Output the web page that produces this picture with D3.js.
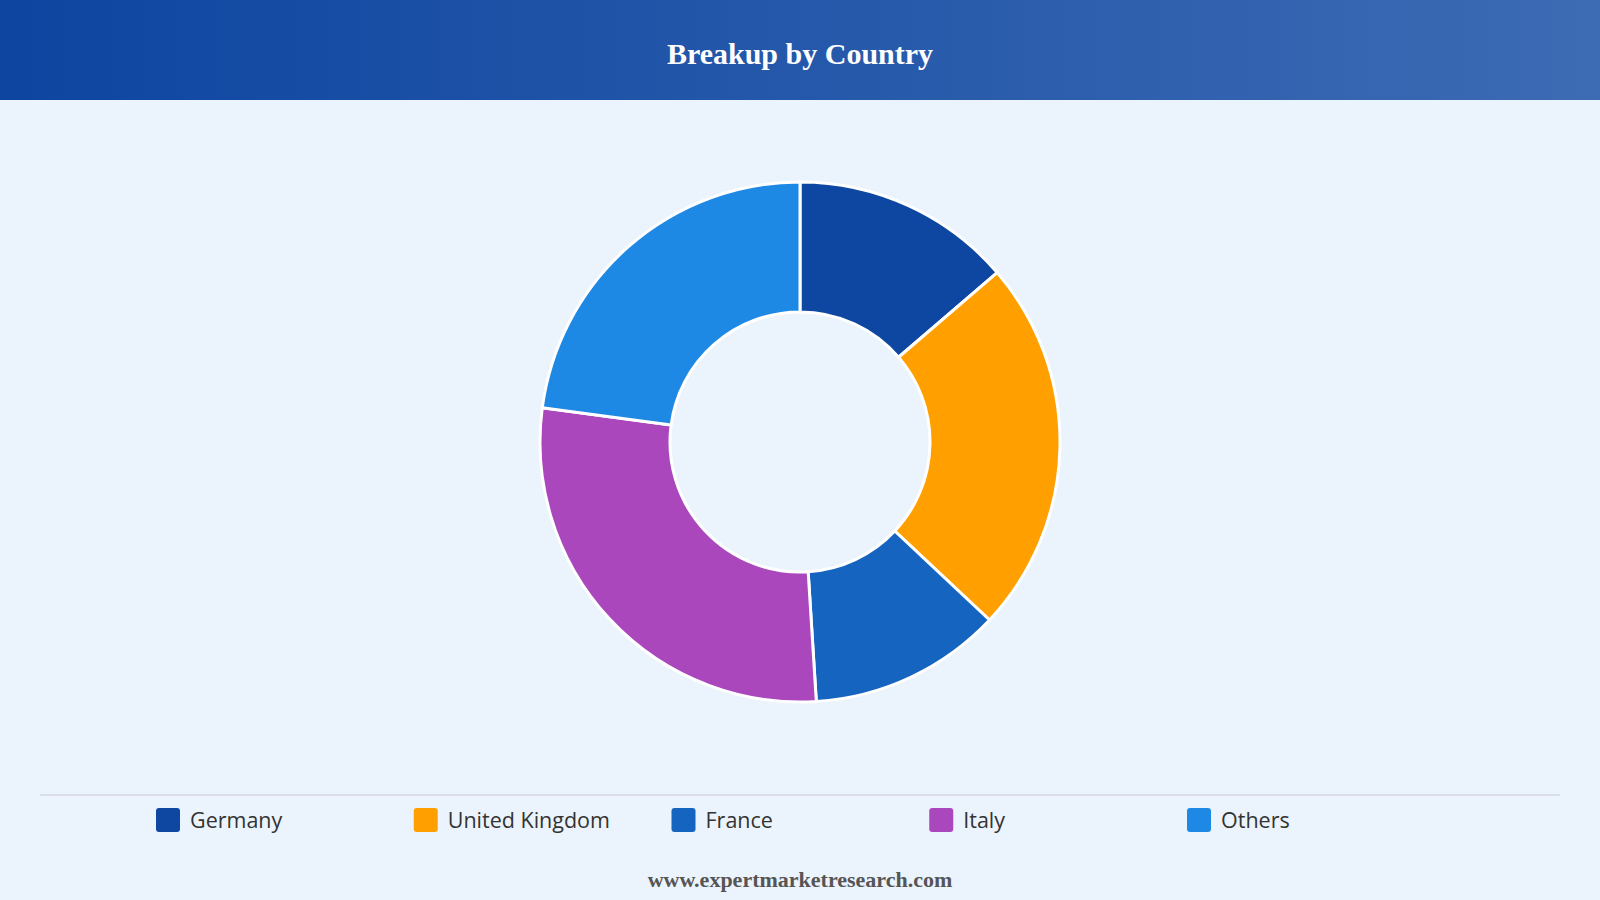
<!DOCTYPE html>
<html>
<head>
<meta charset="utf-8">
<script src="https://cdn.jsdelivr.net/npm/d3@7"></script>
<style>
  html, body { margin: 0; padding: 0; background: #ebf3fc; }
  svg { display: block; }
</style>
</head>
<body>
<svg id="chart" width="1600" height="900"></svg>
<script>
const categories = ["Germany", "United Kingdom", "France", "Italy", "Others"];
const values = [13.7, 23.3, 12.0, 28.1, 22.9];
const colors = ["#0d47a1", "#ffa000", "#1565c0", "#ab47bc", "#1e88e5"];
const title = "Breakup by Country";
const footer = "www.expertmarketresearch.com";

const W = 1600, H = 900;
const svg = d3.select("#chart");

const defs = svg.append("defs");
const grad = defs.append("linearGradient").attr("id", "hdr").attr("x1", "0%").attr("x2", "100%");
grad.append("stop").attr("offset", "0%").attr("stop-color", "#0d45a0");
grad.append("stop").attr("offset", "100%").attr("stop-color", "#3d6bb4");

svg.append("rect").attr("width", W).attr("height", H).attr("fill", "#ebf3fc");
svg.append("rect").attr("width", W).attr("height", 100).attr("fill", "url(#hdr)");
svg.append("text").attr("x", W / 2).attr("y", 57)
  .attr("text-anchor", "middle").attr("dominant-baseline", "middle")
  .attr("font-family", "'Liberation Serif', 'Times New Roman', serif")
  .attr("font-weight", "bold").attr("font-size", 30).attr("fill", "#fff")
  .text(title);

const cx = 800, cy = 442, outerR = 260, innerR = 130;
const pie = d3.pie().sort(null).value(d => d);
const arc = d3.arc().innerRadius(innerR).outerRadius(outerR);
const color = d3.scaleOrdinal().domain(categories).range(colors);

svg.append("g").attr("transform", `translate(${cx},${cy})`)
  .selectAll("path").data(pie(values)).join("path")
  .attr("d", arc)
  .attr("fill", (d, i) => color(categories[i]))
  .attr("stroke", "#fff").attr("stroke-width", 3).attr("stroke-linejoin", "round");

svg.append("line").attr("x1", 40).attr("x2", 1560).attr("y1", 795).attr("y2", 795)
  .attr("stroke", "#d6d9de").attr("stroke-width", 1.5);

const lx = d3.scalePoint().domain(categories).range([156, 1187]);
const lg = svg.append("g").selectAll("g").data(categories).join("g")
  .attr("transform", d => `translate(${lx(d)},820)`);
lg.append("rect").attr("x", 0).attr("y", -12).attr("width", 24).attr("height", 24)
  .attr("rx", 3).attr("fill", d => color(d));
lg.append("text").attr("x", 34).attr("y", 2)
  .attr("dominant-baseline", "middle")
  .attr("font-family", "'Open Sans', 'Noto Sans', sans-serif")
  .attr("font-size", 21.5).attr("font-weight", 500).attr("fill", "#333")
  .text(d => d);

svg.append("text").attr("x", W / 2).attr("y", 882)
  .attr("text-anchor", "middle").attr("dominant-baseline", "middle")
  .attr("font-family", "'Liberation Serif', 'Times New Roman', serif")
  .attr("font-weight", "bold").attr("font-size", 22).attr("fill", "#555")
  .text(footer);
</script>
</body>
</html>
